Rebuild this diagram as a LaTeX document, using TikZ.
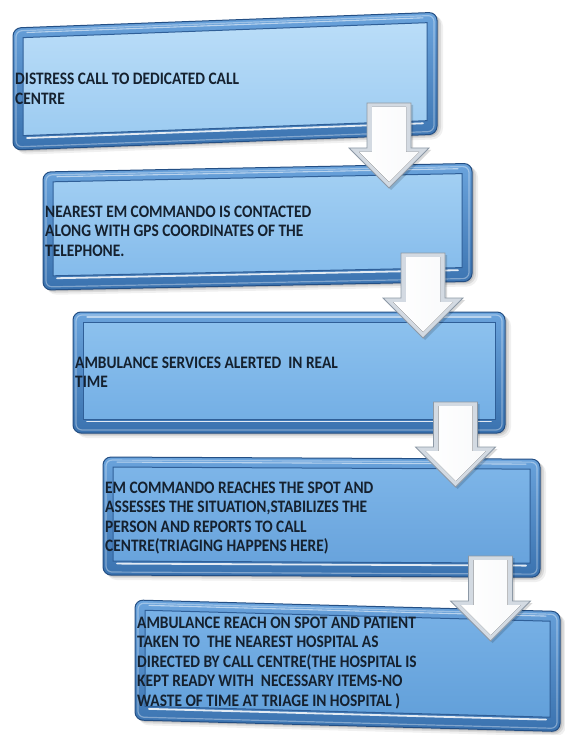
\documentclass[tikz,border=0pt]{standalone}
\usepackage{fontspec}
\newfontfamily\boxfont{Carlito}[FakeStretch=0.88,BoldFont={Carlito Bold}]
\definecolor{framedark}{HTML}{244F84}
\definecolor{frametop}{HTML}{6AA3DC}
\definecolor{framebot}{HTML}{3A72AF}
\definecolor{paneledge}{HTML}{2F5F98}
\definecolor{txt}{HTML}{15212F}
\definecolor{p1t}{HTML}{BADDF8}\definecolor{p1b}{HTML}{9CCBF1}
\definecolor{p2t}{HTML}{A2CFF3}\definecolor{p2b}{HTML}{84BBEB}
\definecolor{p3t}{HTML}{8CC1EE}\definecolor{p3b}{HTML}{74AFE5}
\definecolor{p4t}{HTML}{7DB5E8}\definecolor{p4b}{HTML}{68A3DC}
\definecolor{p5t}{HTML}{78B1E6}\definecolor{p5b}{HTML}{62A0DA}
\definecolor{arrowedge}{HTML}{8D99A6}
\definecolor{arrowside}{HTML}{D3DAE2}
\tikzset{
  boxtext/.style={font={\boxfont\bfseries\fontsize{17.5}{19.5}\selectfont}, text=txt, align=left, inner sep=0pt, anchor=west},
  downarrow/.pic={
    \fill[black,opacity=0.15] (-20,-2) -- (24,-2) -- (24,-47) -- (42,-47) -- (2,-87) -- (-38,-47) -- (-20,-47) -- cycle;
    \draw[arrowedge, line width=0.8, fill=arrowside] (-22,0) -- (22,0) -- (22,-45) -- (40,-45) -- (0,-85) -- (-40,-45) -- (-22,-45) -- cycle;
    \fill[left color=white, right color=white!85!arrowside] (-17,-4) -- (17,-4) -- (17,-49) -- (30,-49) -- (0,-79) -- (-30,-49) -- (-17,-49) -- cycle;
  }
}
\newcommand\flowbox[8]{%
  \begin{scope}[shift={(#2,#3)}, yslant=#6]
    \fill[black,opacity=0.06,rounded corners=11] (3,-3) rectangle (#4+6,-#5-5);
    \fill[black,opacity=0.09,rounded corners=10] (2,-2) rectangle (#4+4,-#5-3);
    \fill[black,opacity=0.12,rounded corners=9] (1,-1) rectangle (#4+2,-#5-1.5);
    \draw[framedark, line width=1, rounded corners=8, top color=frametop, bottom color=framebot] (0,0) rectangle (#4,-#5);
    \draw[white, opacity=0.35, line width=1.2, rounded corners=6] (3,-3) rectangle (#4-3,-#5+3);
    \draw[paneledge, line width=1, top color=p#1t, bottom color=p#1b] (10,-10) rectangle (#4-10,-#5+14);
    \draw[white, opacity=0.85, line width=1.8, line cap=round] (14,-#5+11.5) -- (#4-14,-#5+11.5);
    \draw[white, opacity=0.55, line width=1.1, line cap=round] (14,-5) -- (#4-14,-5);
    \node[boxtext] (b#1) at (2,-#5/2-#7) {#8};
  \end{scope}}
\begin{document}
\begin{tikzpicture}[x=1pt,y=1pt]
  \useasboundingbox (0,0) rectangle (564,-735);
  \fill[white] (0,0) rectangle (564,-735);
  \flowbox{1}{13}{-28}{424}{122}{0.037}{0}{DISTRESS CALL TO DEDICATED CALL\\CENTRE}
  \flowbox{2}{43}{-172}{429}{118}{0.02}{0}{NEAREST EM COMMANDO IS CONTACTED\\ALONG WITH GPS COORDINATES OF THE\\TELEPHONE.}
  \flowbox{3}{73}{-312}{432}{121}{0}{0}{AMBULANCE SERVICES ALERTED\ \ IN REAL\\TIME}
  \flowbox{4}{103}{-457}{437}{118}{-0.005}{2}{EM COMMANDO REACHES THE SPOT AND\\ASSESSES THE SITUATION,STABILIZES THE\\PERSON AND REPORTS TO CALL\\CENTRE(TRIAGING HAPPENS HERE)}
  \flowbox{5}{135}{-600}{425}{120}{-0.027}{3}{AMBULANCE REACH ON SPOT AND PATIENT\\TAKEN TO\ \ THE NEAREST HOSPITAL AS\\DIRECTED BY CALL CENTRE(THE HOSPITAL IS\\KEPT READY WITH\ \ NECESSARY ITEMS-NO\\WASTE OF TIME AT TRIAGE IN HOSPITAL )}
  \pic (a1) at (389,-103) {downarrow};
  \pic (a2) at (423,-253) {downarrow};
  \pic (a3) at (455.5,-402) {downarrow};
  \pic (a4) at (490.5,-556) {downarrow};
\end{tikzpicture}
\end{document}
